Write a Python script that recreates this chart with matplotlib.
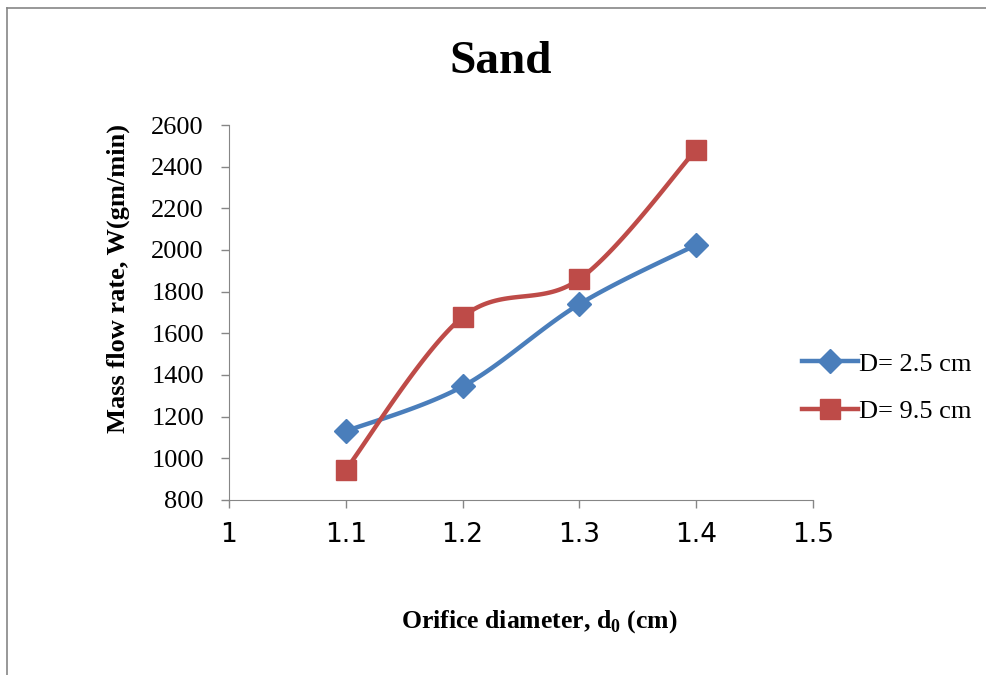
import numpy as np
from matplotlib import pyplot as plt
from matplotlib.lines import Line2D

diameter = [1.1, 1.2, 1.3, 1.4]
flow_25 = [1130, 1345, 1740, 2025]
flow_95 = [945, 1678, 1860, 2482]
series_labels = ['D= 2.5 cm', 'D= 9.5 cm']
x_ticks = [1, 1.1, 1.2, 1.3, 1.4, 1.5]
x_tick_labels = ['1', '1.1', '1.2', '1.3', '1.4', '1.5']
y_ticks = list(range(800, 2601, 200))


def smooth(xs, ys, n=40):
	# excel-like smoothed line: cubic bezier through the points
	p = np.column_stack([xs, ys]).astype(float)
	ext = np.vstack([p[0], p, p[-1]])
	out = []
	t = np.linspace(0, 1, n)[:, None]
	for i in range(len(p) - 1):
		p0 = ext[i + 1]
		p3 = ext[i + 2]
		c1 = p0 + (ext[i + 2] - ext[i]) / 6
		c2 = p3 - (ext[i + 3] - ext[i + 1]) / 6
		seg = (1 - t) ** 3 * p0 + 3 * (1 - t) ** 2 * t * c1 + 3 * (1 - t) * t ** 2 * c2 + t ** 3 * p3
		out.append(seg)
	out = np.vstack(out)
	return out[:, 0], out[:, 1]


serif = 'Liberation Serif'
plt.rcParams['mathtext.fontset'] = 'custom'
plt.rcParams['mathtext.rm'] = serif
plt.rcParams['mathtext.bf'] = serif + ':bold'

blue = '#4A7EBB'
red = '#BE4B48'
grey = '#868686'

fig = plt.figure(figsize=(9.87, 6.75), dpi=100)
ax = fig.add_axes([0.232, 0.2593, 0.5917, 0.5555])

for ys, col, mk, ms in [(flow_25, blue, 'D', 12), (flow_95, red, 's', 14)]:
	sx, sy = smooth(diameter, ys)
	ax.plot(sx, sy, color=col, lw=3.2, solid_capstyle='round')
	ax.plot(diameter, ys, ls='none', marker=mk, ms=ms, color=col)

ax.set_xlim(1, 1.5)
ax.set_ylim(800, 2600)
ax.set_xticks(x_ticks)
ax.set_xticklabels(x_tick_labels, fontsize=19, family='DejaVu Sans')
ax.set_yticks(y_ticks)
ax.set_yticklabels([str(v) for v in y_ticks], fontsize=19, family=serif)
ax.tick_params(axis='both', color=grey, length=6, width=1)
ax.tick_params(axis='x', pad=10)
ax.tick_params(axis='y', pad=12)
ax.spines['top'].set_visible(False)
ax.spines['right'].set_visible(False)
ax.spines['left'].set_color(grey)
ax.spines['bottom'].set_color(grey)

fig.text(0.1196, 0.588, 'Mass flow rate, W(gm/min)', fontsize=19, fontweight='bold', family=serif,
	rotation=90, ha='center', va='center')
fig.text(0.547, 0.0785, 'Orifice diameter, d$_\\mathbf{0}$ (cm)', fontsize=18.5, fontweight='bold',
	family=serif, ha='center', va='center')
fig.text(0.5076, 0.908, 'Sand', fontsize=34, fontweight='bold', family=serif, ha='center', va='center')

handles = [Line2D([], [], color=blue, lw=3.2, marker='D', ms=12),
	Line2D([], [], color=red, lw=3.2, marker='s', ms=14)]
fig.legend(handles, series_labels, loc='center left', bbox_to_anchor=(0.789, 0.426), frameon=False,
	prop={'family': serif, 'size': 19}, handlelength=2.1, handletextpad=0.05, labelspacing=0.9)

# chart area border (only left/top edges show)
fig.add_artist(Line2D([0.007, 0.007], [0, 0.988], color=grey, lw=1.2, transform=fig.transFigure))
fig.add_artist(Line2D([0.007, 1], [0.988, 0.988], color=grey, lw=1.2, transform=fig.transFigure))

fig.savefig('out.png', dpi=100)
